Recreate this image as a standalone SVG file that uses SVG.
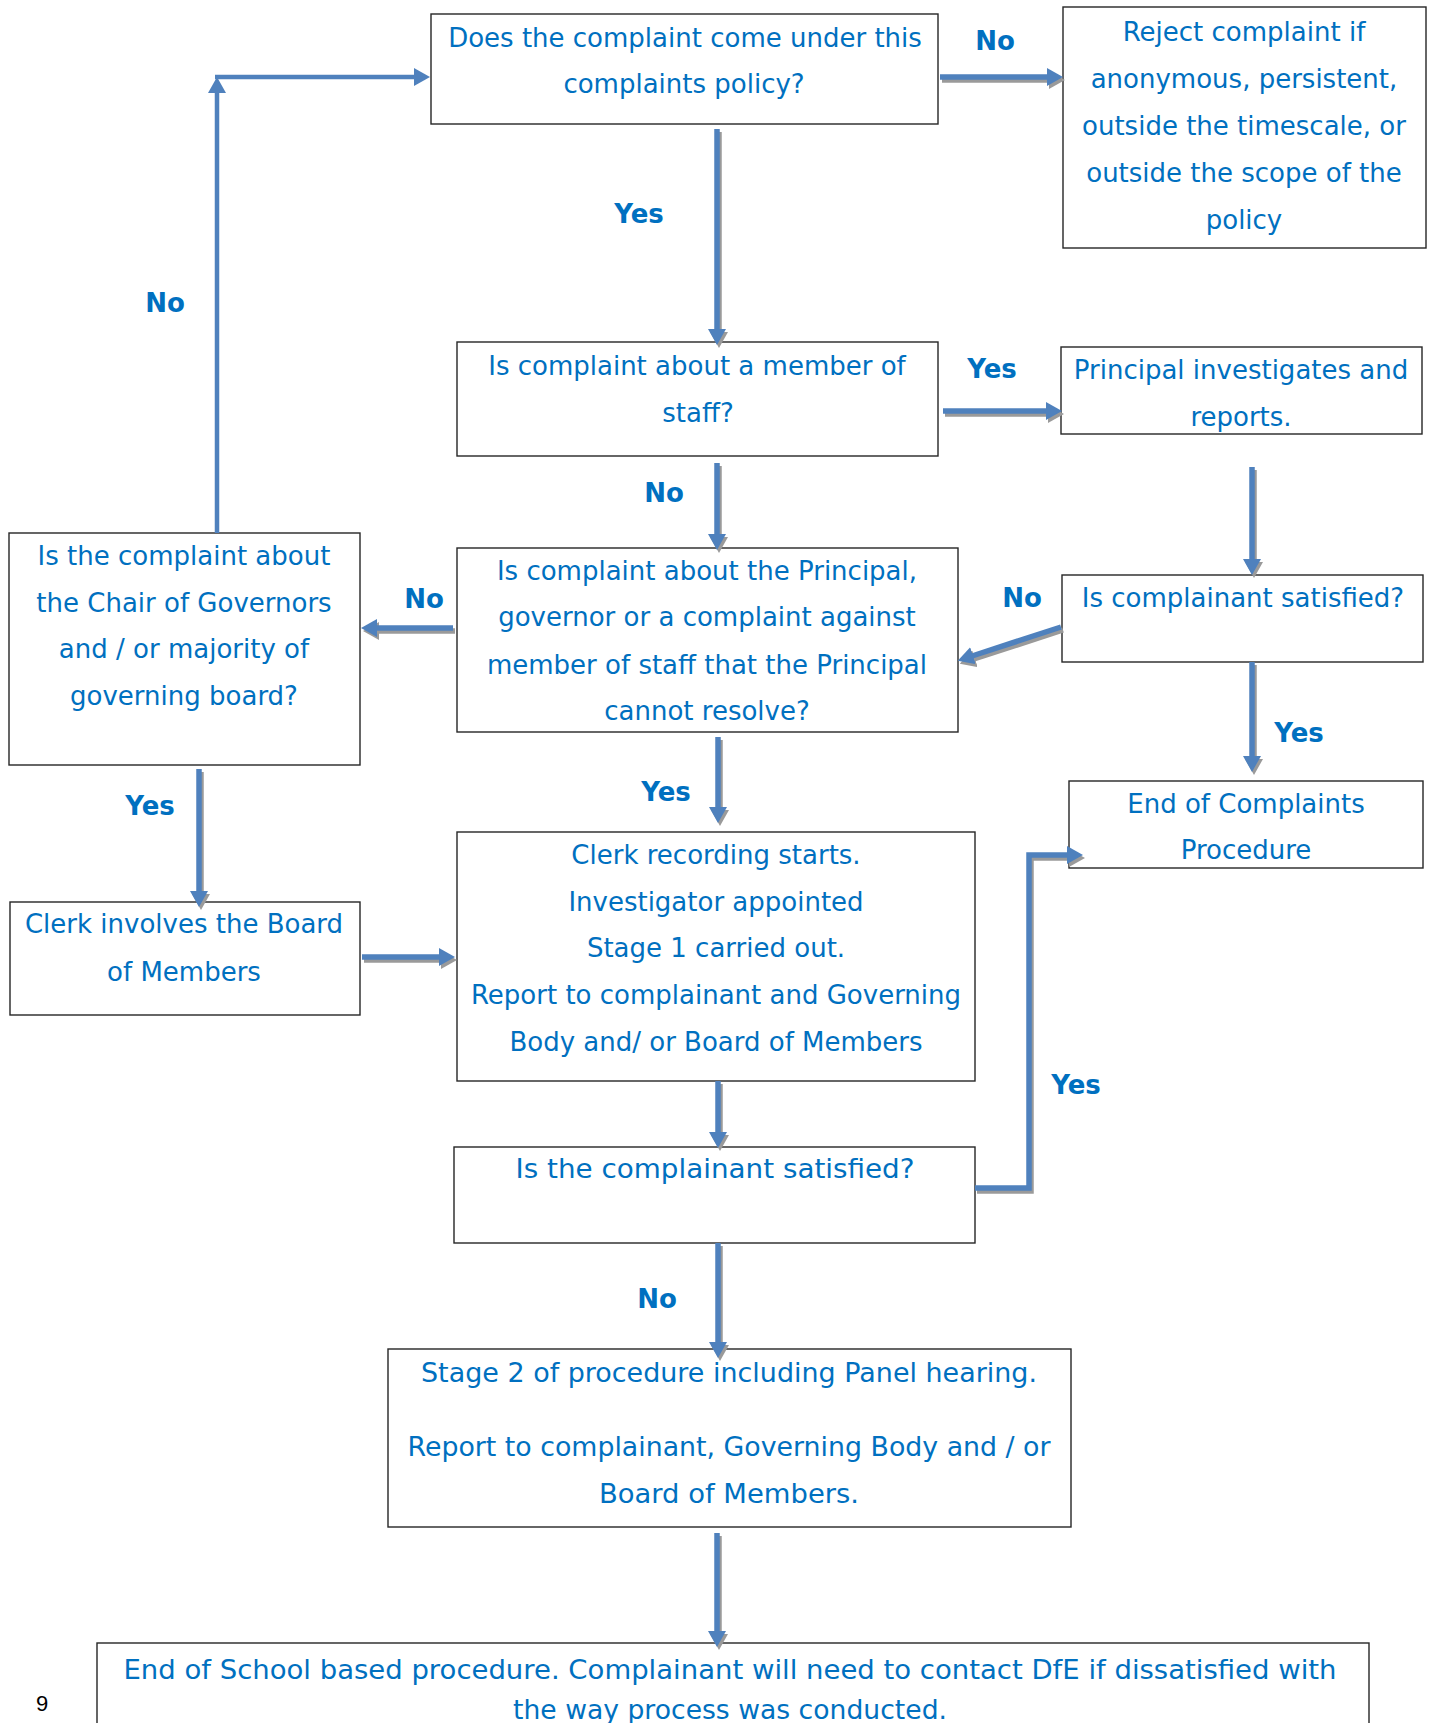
<svg xmlns="http://www.w3.org/2000/svg" width="1435" height="1723" viewBox="0 0 1435 1723">
<style>
.box{fill:#fff;stroke:#262626;stroke-width:1.4}
.t{font-family:"DejaVu Sans",sans-serif;font-size:26px;fill:#0070C0;text-anchor:middle}
.lb{font-family:"DejaVu Sans",sans-serif;font-size:26px;font-weight:bold;fill:#0070C0;text-anchor:middle}
.c{fill:none;stroke:#4F81BD;stroke-width:5.5}
.cs{fill:none;stroke:#9a9a9a;stroke-width:5.5}
.thin{fill:none;stroke:#4F81BD;stroke-width:4.5}
.pg{font-family:"Liberation Sans",sans-serif;font-size:22px;fill:#000;text-anchor:middle}
</style>
<defs>
<marker id="ah" markerUnits="userSpaceOnUse" viewBox="0 0 16 18" refX="1" refY="9" markerWidth="16" markerHeight="18" orient="auto"><path d="M0,0 L16,9 L0,18 z" fill="#4F81BD"/></marker>
<marker id="ahs" markerUnits="userSpaceOnUse" viewBox="0 0 16 18" refX="1" refY="9" markerWidth="16" markerHeight="18" orient="auto"><path d="M0,0 L16,9 L0,18 z" fill="#9a9a9a"/></marker>
</defs>
<rect width="1435" height="1723" fill="#fff"/>

<g id="n1">
<rect class="box" x="431" y="14" width="507" height="110"/>
<text class="t" x="685" y="47">Does the complaint come under this</text>
<text class="t" x="684" y="93">complaints policy?</text>
</g>
<g id="n2">
<rect class="box" x="1063" y="7" width="363" height="241"/>
<text class="t" x="1244" y="41">Reject complaint if</text>
<text class="t" x="1244" y="88">anonymous, persistent,</text>
<text class="t" x="1244" y="135">outside the timescale, or</text>
<text class="t" x="1244" y="182">outside the scope of the</text>
<text class="t" x="1244" y="229">policy</text>
</g>
<g id="n3">
<rect class="box" x="457" y="342" width="481" height="114"/>
<text class="t" x="697" y="375">Is complaint about a member of</text>
<text class="t" x="698" y="422">staff?</text>
</g>
<g id="n4">
<rect class="box" x="1061" y="347" width="361" height="87"/>
<text class="t" x="1241" y="379">Principal investigates and</text>
<text class="t" x="1241" y="426">reports.</text>
</g>
<g id="n5">
<rect class="box" x="9" y="533" width="351" height="232"/>
<text class="t" x="184" y="565">Is the complaint about</text>
<text class="t" x="184" y="612">the Chair of Governors</text>
<text class="t" x="184" y="658">and / or majority of</text>
<text class="t" x="184" y="705">governing board?</text>
</g>
<g id="n6">
<rect class="box" x="457" y="548" width="501" height="184"/>
<text class="t" x="707" y="580">Is complaint about the Principal,</text>
<text class="t" x="707" y="626">governor or a complaint against</text>
<text class="t" x="707" y="674">member of staff that the Principal</text>
<text class="t" x="707" y="720">cannot resolve?</text>
</g>
<g id="n7">
<rect class="box" x="1062" y="575" width="361" height="87"/>
<text class="t" x="1243" y="607">Is complainant satisfied?</text>
</g>
<g id="n8">
<rect class="box" x="1069" y="781" width="354" height="87"/>
<text class="t" x="1246" y="813">End of Complaints</text>
<text class="t" x="1246" y="859">Procedure</text>
</g>
<g id="n9">
<rect class="box" x="10" y="902" width="350" height="113"/>
<text class="t" x="184" y="933">Clerk involves the Board</text>
<text class="t" x="184" y="981">of Members</text>
</g>
<g id="n10">
<rect class="box" x="457" y="832" width="518" height="249"/>
<text class="t" x="716" y="864">Clerk recording starts.</text>
<text class="t" x="716" y="911">Investigator appointed</text>
<text class="t" x="716" y="957">Stage 1 carried out.</text>
<text class="t" x="716" y="1004">Report to complainant and Governing</text>
<text class="t" x="716" y="1051">Body and/ or Board of Members</text>
</g>
<g id="n11">
<rect class="box" x="454" y="1147" width="521" height="96"/>
<text class="t" x="715" y="1178" textLength="399" lengthAdjust="spacingAndGlyphs">Is the complainant satisfied?</text>
</g>
<g id="n12">
<rect class="box" x="388" y="1349" width="683" height="178"/>
<text class="t" x="729" y="1382" textLength="616" lengthAdjust="spacingAndGlyphs">Stage 2 of procedure including Panel hearing.</text>
<text class="t" x="729" y="1456" textLength="643" lengthAdjust="spacingAndGlyphs">Report to complainant, Governing Body and / or</text>
<text class="t" x="729" y="1503" textLength="260" lengthAdjust="spacingAndGlyphs">Board of Members.</text>
</g>
<g id="n13">
<rect class="box" x="97" y="1643" width="1272" height="120"/>
<text class="t" x="730" y="1679" textLength="1213" lengthAdjust="spacingAndGlyphs">End of School based procedure. Complainant will need to contact DfE if dissatisfied with</text>
<text class="t" x="730" y="1719" textLength="434" lengthAdjust="spacingAndGlyphs">the way process was conducted.</text>
</g>
<text class="pg" x="42" y="1711">9</text>

<g id="connectors">
<g id="shadows" transform="translate(2,3)">
<path class="cs" marker-end="url(#ahs)" d="M940,77 L1048,77"/>
<path class="cs" marker-end="url(#ahs)" d="M943,411 L1047,411"/>
<path class="cs" marker-end="url(#ahs)" d="M1061,627 L972,656"/>
<path class="cs" marker-end="url(#ahs)" d="M453,628 L376,628"/>
<path class="cs" marker-end="url(#ahs)" d="M362,957 L440,957"/>
<path class="cs" marker-end="url(#ahs)" d="M975,1188 L1029,1188 L1029,855 L1068,855"/>
<path class="cs" marker-end="url(#ahs)" d="M717,129 L717,330" stroke-width="3"/>
<path class="cs" marker-end="url(#ahs)" d="M717,463 L717,535" stroke-width="3"/>
<path class="cs" marker-end="url(#ahs)" d="M1252,467 L1252,560" stroke-width="3"/>
<path class="cs" marker-end="url(#ahs)" d="M1252,662 L1252,757" stroke-width="3"/>
<path class="cs" marker-end="url(#ahs)" d="M718,737 L718,808" stroke-width="3"/>
<path class="cs" marker-end="url(#ahs)" d="M199,769 L199,892" stroke-width="3"/>
<path class="cs" marker-end="url(#ahs)" d="M718,1081 L718,1133" stroke-width="3"/>
<path class="cs" marker-end="url(#ahs)" d="M718,1243 L718,1343" stroke-width="3"/>
<path class="cs" marker-end="url(#ahs)" d="M717,1533 L717,1632" stroke-width="3"/>
</g>
<path class="c" marker-end="url(#ah)" d="M717,129 L717,330"/>
<path class="c" marker-end="url(#ah)" d="M940,77 L1048,77"/>
<path class="c" marker-end="url(#ah)" d="M943,411 L1047,411"/>
<path class="c" marker-end="url(#ah)" d="M717,463 L717,535"/>
<path class="c" marker-end="url(#ah)" d="M1252,467 L1252,560"/>
<path class="c" marker-end="url(#ah)" d="M1061,627 L972,656"/>
<path class="c" marker-end="url(#ah)" d="M453,628 L376,628"/>
<path class="c" marker-end="url(#ah)" d="M1252,662 L1252,757"/>
<path class="thin" marker-end="url(#ah)" d="M217,533 L217,92"/>
<path class="thin" marker-end="url(#ah)" d="M215,77 L415,77"/>
<path class="c" marker-end="url(#ah)" d="M718,737 L718,808"/>
<path class="c" marker-end="url(#ah)" d="M199,769 L199,892"/>
<path class="c" marker-end="url(#ah)" d="M362,957 L440,957"/>
<path class="c" marker-end="url(#ah)" d="M718,1081 L718,1133"/>
<path class="c" marker-end="url(#ah)" d="M975,1188 L1029,1188 L1029,855 L1068,855"/>
<path class="c" marker-end="url(#ah)" d="M718,1243 L718,1343"/>
<path class="c" marker-end="url(#ah)" d="M717,1533 L717,1632"/>
</g>

<g id="labels">
<text class="lb" x="995" y="50">No</text>
<text class="lb" x="639" y="223">Yes</text>
<text class="lb" x="165" y="312">No</text>
<text class="lb" x="992" y="378">Yes</text>
<text class="lb" x="664" y="502">No</text>
<text class="lb" x="424" y="608">No</text>
<text class="lb" x="1022" y="607">No</text>
<text class="lb" x="1299" y="742">Yes</text>
<text class="lb" x="150" y="815">Yes</text>
<text class="lb" x="666" y="801">Yes</text>
<text class="lb" x="1076" y="1094">Yes</text>
<text class="lb" x="657" y="1308">No</text>
</g>
</svg>
